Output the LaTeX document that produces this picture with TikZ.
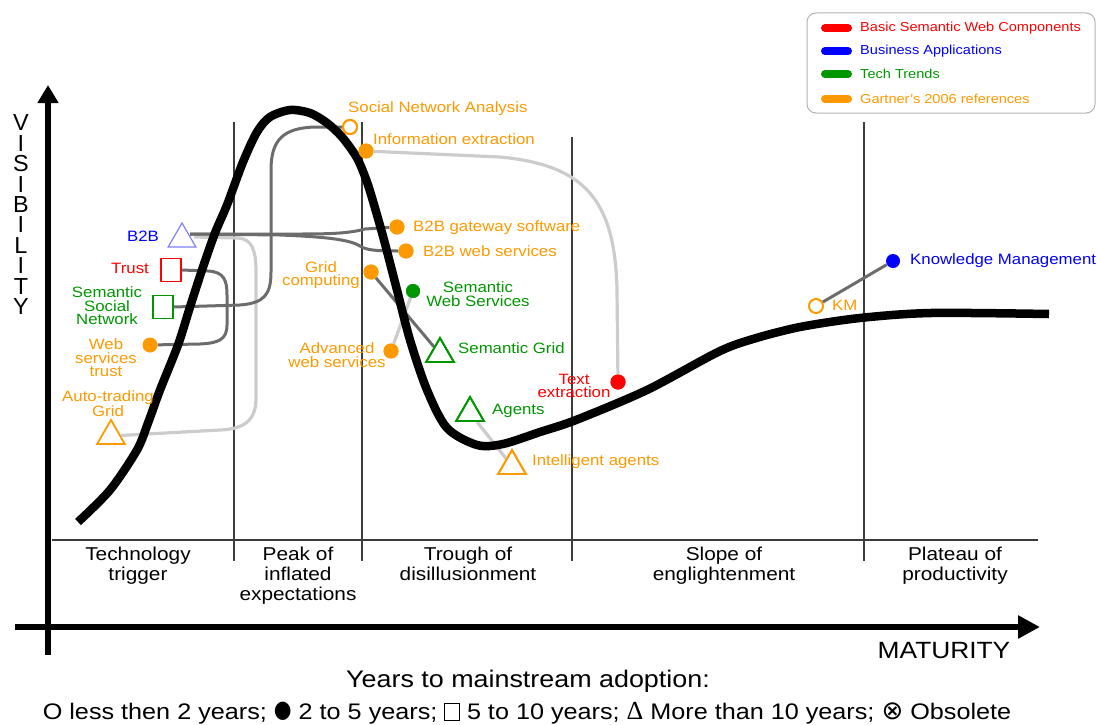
\documentclass[tikz,border=0pt]{standalone}
\usepackage{fontspec}
\setmainfont{Liberation Sans}[FakeStretch=1.12]
\newfontfamily\dejavu{DejaVu Sans}
\newfontfamily\serifsym{Liberation Serif}
\usetikzlibrary{shapes.geometric,arrows.meta,calc}
\definecolor{gorange}{RGB}{255,153,0}
\definecolor{gred}{RGB}{255,0,0}
\definecolor{gblue}{RGB}{0,0,255}
\definecolor{ggreen}{RGB}{0,150,0}
\definecolor{lblue}{RGB}{128,128,255}
\definecolor{dkg}{RGB}{108,108,108}
\definecolor{ltg}{RGB}{204,204,204}
\definecolor{divc}{RGB}{60,60,60}
\tikzset{
  lbl/.style={inner sep=0, font=\fontsize{15}{13.5}\selectfont, align=center},
  phase/.style={inner sep=0, anchor=north, font=\fontsize{18.6}{20}\selectfont, align=center},
  dot/.style={circle, fill=#1, minimum size=15, inner sep=0},
  odot/.style={circle, draw=#1, line width=2, minimum size=14, inner sep=0},
  sq/.style={rectangle, draw=#1, line width=1.6, minimum width=20, minimum height=23, inner sep=0},
  tri/.style={regular polygon, regular polygon sides=3, draw=#1, line width=1.8, minimum size=32, inner sep=0},
  dkline/.style={draw=dkg, line width=3},
  ltline/.style={draw=ltg, line width=3.2},
  divider/.style={draw=divc, line width=1.1},
  legbar/.style={line width=8, line cap=round},
  legtxt/.style={inner sep=0, anchor=west, font=\fontsize{13}{13}\selectfont},
  axletter/.style={inner sep=0, font=\fontsize{19}{19}\selectfont}
}
\newcommand{\keydot}{{\dejavu\fontsize{24}{24}\selectfont\raisebox{2pt}{\scalebox{0.85}[1]{●}}}}
\newcommand{\keybox}{\raisebox{-1pt}{\setlength{\fboxsep}{0pt}\setlength{\fboxrule}{0.8pt}\fbox{\rule{0pt}{17pt}\hspace{14pt}}}}
\newcommand{\keytri}{{\serifsym\fontsize{26}{24}\selectfont Δ}}
\newcommand{\keyobs}{{\dejavu\fontsize{26}{24}\selectfont ⊗}}
\begin{document}
\begin{tikzpicture}[x=1pt,y=-1pt]
\useasboundingbox (0,0) rectangle (1097,725);
% legend box
\draw[rounded corners=9, draw=gray!60, line width=1] (807,13) rectangle (1095,113);
\draw[legbar, gred] (825,28) -- (848,28);
\draw[legbar, gblue] (825,51) -- (848,51);
\draw[legbar, ggreen] (825,74) -- (848,74);
\draw[legbar, gorange] (825,99) -- (848,99);
\node[legtxt, text=gred] (lg1) at (860,28) {Basic Semantic Web Components};
\node[legtxt, text=gblue] (lg2) at (860,51) {Business Applications};
\node[legtxt, text=ggreen] (lg3) at (860,74) {Tech Trends};
\node[legtxt, text=gorange] (lg4) at (860,99) {Gartner's 2006 references};
% dividers
\draw[divider] (234,122) -- (234,561);
\draw[divider] (362,122) -- (362,561);
\draw[divider] (572,137) -- (572,561);
\draw[divider] (864,122) -- (864,561);
\draw[draw=divc, line width=1.4] (52,540) -- (1038,540);
% axes
\draw[line width=5.5, -{Triangle[length=18pt,width=20pt]}] (48,655) -- (48,85);
\draw[line width=6, -{Triangle[length=22pt,width=22pt]}] (15,627) -- (1040,627);
% axis labels
\foreach \ch [count=\i from 0] in {V,I,S,I,B,I,L,I,T,Y}
  \node[axletter] (vis\i) at (21,{123+20.4*\i}) {\scalebox{1.1}[1.22]{\ch}};
\node[inner sep=0, font=\fontsize{23.5}{24}\selectfont] (mat) at (944,651) {MATURITY};
\node[inner sep=0, font=\fontsize{24}{24}\selectfont] (years) at (528,681) {Years to mainstream adoption:};
\node[inner sep=0, font=\fontsize{22.5}{24}\selectfont] (keyline) at (527,713) {O less then 2 years; \keydot{} 2 to 5 years; \keybox{} 5 to 10 years; \keytri{} More than 10 years; \keyobs{} Obsolete};
% phase labels
\node[phase] (ph1) at (138,547) {Technology\\trigger};
\node[phase] (ph2) at (298,547) {Peak of\\inflated\\expectations};
\node[phase] (ph3) at (468,547) {Trough of\\disillusionment};
\node[phase] (ph4) at (724,547) {Slope of\\englightenment};
\node[phase] (ph5) at (955,547) {Plateau of\\productivity};
% markers
\path
  node[odot=gorange] (sna) at (350,127) {}
  node[dot=gorange] (infoext) at (366,151) {}
  node[dot=gorange] (b2bgw) at (397,227) {}
  node[dot=gorange] (b2bws) at (406,251) {}
  node[dot=gorange] (gridcomp) at (371,272) {}
  node[dot=ggreen, minimum size=14] (semweb) at (413,291) {}
  node[dot=gorange] (advweb) at (391,351) {}
  node[tri=ggreen] (semgrid) at (440,354) {}
  node[dot=gred] (textext) at (618,382) {}
  node[tri=ggreen] (agents) at (470,413) {}
  node[tri=gorange] (intag) at (512,466) {}
  node[odot=gorange] (km) at (816,306) {}
  node[dot=gblue, minimum size=14] (kmgmt) at (893,261) {}
  node[tri=lblue, line width=1.2] (b2b) at (182,239) {}
  node[sq=gred] (trust) at (171,270) {}
  node[sq=ggreen] (ssn) at (163,307) {}
  node[dot=gorange] (webtrust) at (150,345) {}
  node[tri=gorange] (autog) at (111,436) {};
% connectors
\coordinate (b2bs) at ([shift={(8,-5)}]b2b.center);
\draw[ltline] ([shift={(12,-2)}]b2b.center) -- (238,238) .. controls (252,239) and (256,250) .. (256,272) -- (256,398) .. controls (256,420) and (245,429) .. (220,430) -- (autog);
\draw[dkline] (b2bs) -- (300,234) .. controls (335,234) and (350,233) .. (365,229) -- (b2bgw);
\draw[dkline] (b2bs) -- (280,235) .. controls (330,237) and (350,240) .. (360,246) .. controls (366,250) and (375,251) .. (b2bws);
\draw[dkline] (trust.east) -- (208,271) .. controls (224,272) and (227,280) .. (227,295) -- (227,325) .. controls (227,340) and (218,343) .. (200,344) -- (webtrust);
\draw[dkline] (ssn.east) -- (240,305) .. controls (264,303) and (271,295) .. (271,272) -- (271,170) .. controls (271,140) and (283,128) .. (315,127) -- (sna);
\draw[ltline] (infoext) -- (500,157) .. controls (585,165) and (615,200) .. (617,290) -- (textext);
\draw[dkline] (gridcomp) -- (semgrid);
\draw[ltline] (semweb) -- (advweb);
\draw[ltline] (agents) -- (intag);
\draw[dkline] (km) -- (kmgmt);
% hype curve
\draw[line width=8.5, line join=round] plot[smooth, tension=0.5] coordinates {
 (78,522) (110,490) (137,450) (148,423) (160,390) (178,345) (190,307) (202,270) (215,233) (227,205) (243,162) (257,132) (270,117) (290,110) (310,113) (327,123) (342,137) (357,158) (367,182) (375,208) (384,240) (397,290) (410,340) (427,390) (447,428) (477,445) (503,444) (540,432) (576,420) (647,390) (718,352) (753,339) (800,327) (860,318) (931,313) (1049,314)};
% redraw markers on top of the curve
\path
  node[odot=gorange, fill=white] at (sna) {}
  node[dot=gorange] at (infoext) {}
  node[dot=gorange] at (b2bgw) {}
  node[dot=gorange] at (b2bws) {}
  node[dot=gorange] at (gridcomp) {}
  node[dot=ggreen, minimum size=14] at (semweb) {}
  node[dot=gorange] at (advweb) {}
  node[tri=ggreen] at (semgrid) {}
  node[dot=gred] at (textext) {}
  node[tri=ggreen] at (agents) {}
  node[tri=gorange] at (intag) {};
% labels
\node[lbl, anchor=west, text=gorange] (snal) at (348,109) {Social Network Analysis};
\node[lbl, anchor=west, text=gorange] (infoextl) at (373,139) {Information extraction};
\node[lbl, anchor=west, text=gorange] (b2bgwl) at (413,228) {B2B gateway software};
\node[lbl, anchor=west, text=gorange] (b2bwsl) at (423,251) {B2B web services};
\node[lbl, text=gorange] (gridcompl) at (321,275) {Grid\\computing};
\node[lbl, text=ggreen] (semwebl) at (478,294) {Semantic\\Web Services};
\node[lbl, anchor=west, text=ggreen] (semgridl) at (458,348) {Semantic Grid};
\node[lbl, text=gorange] (advwebl) at (337,355) {Advanced\\web services};
\node[lbl, text=gred] (textextl) at (574,386) {Text\\extraction};
\node[lbl, anchor=west, text=ggreen] (agentsl) at (492,411) {Agents};
\node[lbl, anchor=west, text=gorange] (intagl) at (532,462) {Intelligent agents};
\node[lbl, anchor=west, text=gorange] (kml) at (832,305) {KM};
\node[lbl, anchor=west, text=gblue] (kmgmtl) at (910,261) {Knowledge Management};
\node[lbl, text=gblue] (b2bl) at (143,236) {B2B};
\node[lbl, text=gred] (trustl) at (130,268) {Trust};
\node[lbl, text=ggreen] (ssnl) at (107,306) {Semantic\\Social\\Network};
\node[lbl, text=gorange] (webtrustl) at (106,358) {Web\\services\\trust};
\node[lbl, text=gorange] (autogl) at (108,404) {Auto-trading\\Grid};
\end{tikzpicture}
\end{document}
